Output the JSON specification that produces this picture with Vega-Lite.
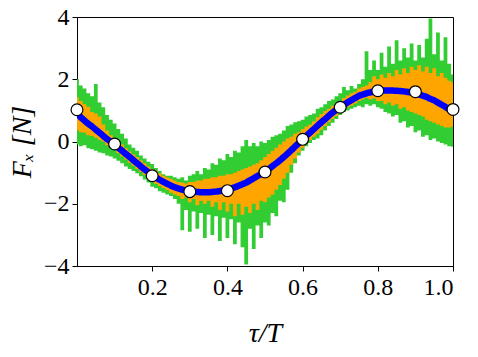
{
  "$schema": "https://vega.github.io/schema/vega-lite/v6.json",
  "autosize": {"type": "none"},
  "padding": {"left": 77, "top": 17, "right": 25, "bottom": 91},
  "width": 376,
  "height": 249,
  "background": "white",
  "config": {
    "view": {"stroke": "black", "strokeWidth": 1},
    "axis": {
      "grid": false,
      "domainColor": "black",
      "domainWidth": 1,
      "tickColor": "black",
      "tickWidth": 1,
      "tickSize": 5,
      "labelFont": "Liberation Serif",
      "labelFontSize": 24,
      "labelColor": "black",
      "titleFont": "Liberation Serif",
      "titleFontSize": 28,
      "titleFontStyle": "italic",
      "titleFontWeight": "normal",
      "titleColor": "black"
    }
  },
  "datasets": {
    "sig": [
      {"x":0.00,"b":0.88,"gl":-0.1,"gh":2.0,"ol":0.37,"oh":1.42},
      {"x":0.01,"b":0.78,"gl":-0.15,"gh":1.8,"ol":0.3,"oh":1.3},
      {"x":0.02,"b":0.67,"gl":-0.12,"gh":1.7,"ol":0.28,"oh":1.2},
      {"x":0.03,"b":0.57,"gl":-0.22,"gh":1.55,"ol":0.2,"oh":1.12},
      {"x":0.04,"b":0.48,"gl":-0.25,"gh":1.45,"ol":0.18,"oh":0.95},
      {"x":0.05,"b":0.38,"gl":-0.3,"gh":1.85,"ol":0.12,"oh":0.9},
      {"x":0.06,"b":0.28,"gl":-0.35,"gh":1.25,"ol":0.05,"oh":0.8},
      {"x":0.07,"b":0.18,"gl":-0.38,"gh":1.1,"ol":0.0,"oh":0.55},
      {"x":0.08,"b":0.08,"gl":-0.45,"gh":0.85,"ol":-0.12,"oh":0.35},
      {"x":0.09,"b":-0.01,"gl":-0.48,"gh":0.7,"ol":-0.2,"oh":0.2},
      {"x":0.10,"b":-0.10,"gl":-0.55,"gh":0.58,"ol":-0.27,"oh":0.1},
      {"x":0.11,"b":-0.20,"gl":-0.62,"gh":0.4,"ol":-0.38,"oh":0.0},
      {"x":0.12,"b":-0.30,"gl":-0.7,"gh":0.25,"ol":-0.48,"oh":-0.1},
      {"x":0.13,"b":-0.40,"gl":-0.8,"gh":0.1,"ol":-0.58,"oh":-0.22},
      {"x":0.14,"b":-0.50,"gl":-0.88,"gh":-0.1,"ol":-0.68,"oh":-0.32},
      {"x":0.15,"b":-0.60,"gl":-0.95,"gh":-0.2,"ol":-0.78,"oh":-0.42},
      {"x":0.16,"b":-0.70,"gl":-1.02,"gh":-0.3,"ol":-0.88,"oh":-0.5},
      {"x":0.17,"b":-0.80,"gl":-1.12,"gh":-0.45,"ol":-0.98,"oh":-0.6},
      {"x":0.18,"b":-0.90,"gl":-1.22,"gh":-0.55,"ol":-1.08,"oh":-0.7},
      {"x":0.19,"b":-0.99,"gl":-1.32,"gh":-0.65,"ol":-1.18,"oh":-0.8},
      {"x":0.20,"b":-1.08,"gl":-1.45,"gh":-0.72,"ol":-1.28,"oh":-0.88},
      {"x":0.21,"b":-1.16,"gl":-1.5,"gh":-0.85,"ol":-1.36,"oh":-0.95},
      {"x":0.22,"b":-1.23,"gl":-1.6,"gh":-0.95,"ol":-1.43,"oh":-1.02},
      {"x":0.23,"b":-1.30,"gl":-1.65,"gh":-1.05,"ol":-1.5,"oh":-1.1},
      {"x":0.24,"b":-1.36,"gl":-1.7,"gh":-1.1,"ol":-1.56,"oh":-1.16},
      {"x":0.25,"b":-1.42,"gl":-1.75,"gh":-1.1,"ol":-1.65,"oh":-1.2},
      {"x":0.26,"b":-1.47,"gl":-1.85,"gh":-1.15,"ol":-1.7,"oh":-1.25},
      {"x":0.27,"b":-1.51,"gl":-2.0,"gh":-1.2,"ol":-1.75,"oh":-1.3},
      {"x":0.28,"b":-1.55,"gl":-2.85,"gh":-1.15,"ol":-1.85,"oh":-1.32},
      {"x":0.29,"b":-1.58,"gl":-2.2,"gh":-1.25,"ol":-1.8,"oh":-1.35},
      {"x":0.30,"b":-1.60,"gl":-2.9,"gh":-1.1,"ol":-1.95,"oh":-1.3},
      {"x":0.31,"b":-1.61,"gl":-2.25,"gh":-1.05,"ol":-1.85,"oh":-1.3},
      {"x":0.32,"b":-1.62,"gl":-2.8,"gh":-0.95,"ol":-2.05,"oh":-1.25},
      {"x":0.33,"b":-1.63,"gl":-2.3,"gh":-1.05,"ol":-1.9,"oh":-1.25},
      {"x":0.34,"b":-1.63,"gl":-3.1,"gh":-0.85,"ol":-2.0,"oh":-1.2},
      {"x":0.35,"b":-1.63,"gl":-2.35,"gh":-0.9,"ol":-1.9,"oh":-1.2},
      {"x":0.36,"b":-1.62,"gl":-3.0,"gh":-0.7,"ol":-2.1,"oh":-1.15},
      {"x":0.37,"b":-1.61,"gl":-2.4,"gh":-0.75,"ol":-1.95,"oh":-1.15},
      {"x":0.38,"b":-1.59,"gl":-3.2,"gh":-0.55,"ol":-2.2,"oh":-1.1},
      {"x":0.39,"b":-1.57,"gl":-2.45,"gh":-0.6,"ol":-1.95,"oh":-1.1},
      {"x":0.40,"b":-1.55,"gl":-3.1,"gh":-0.4,"ol":-2.25,"oh":-1.05},
      {"x":0.41,"b":-1.51,"gl":-2.5,"gh":-0.5,"ol":-2.0,"oh":-1.05},
      {"x":0.42,"b":-1.47,"gl":-3.3,"gh":-0.3,"ol":-2.4,"oh":-1.0},
      {"x":0.43,"b":-1.42,"gl":-2.6,"gh":-0.35,"ol":-2.0,"oh":-0.95},
      {"x":0.44,"b":-1.37,"gl":-3.4,"gh":-0.15,"ol":-2.35,"oh":-0.9},
      {"x":0.45,"b":-1.32,"gl":-3.95,"gh":0.05,"ol":-2.1,"oh":-0.85},
      {"x":0.46,"b":-1.25,"gl":-2.8,"gh":-0.15,"ol":-2.3,"oh":-0.8},
      {"x":0.47,"b":-1.18,"gl":-3.45,"gh":-0.05,"ol":-2.0,"oh":-0.75},
      {"x":0.48,"b":-1.11,"gl":-2.7,"gh":-0.15,"ol":-2.2,"oh":-0.7},
      {"x":0.49,"b":-1.04,"gl":-3.1,"gh":0.0,"ol":-1.9,"oh":-0.6},
      {"x":0.50,"b":-0.97,"gl":-2.6,"gh":-0.05,"ol":-1.95,"oh":-0.5},
      {"x":0.51,"b":-0.88,"gl":-2.7,"gh":0.05,"ol":-1.8,"oh":-0.4},
      {"x":0.52,"b":-0.79,"gl":-2.3,"gh":0.15,"ol":-1.7,"oh":-0.3},
      {"x":0.53,"b":-0.70,"gl":-2.4,"gh":0.2,"ol":-1.55,"oh":-0.2},
      {"x":0.54,"b":-0.60,"gl":-1.9,"gh":0.25,"ol":-1.4,"oh":-0.1},
      {"x":0.55,"b":-0.50,"gl":-1.95,"gh":0.35,"ol":-1.2,"oh":0.0},
      {"x":0.56,"b":-0.39,"gl":-1.55,"gh":0.5,"ol":-1.0,"oh":0.1},
      {"x":0.57,"b":-0.28,"gl":-1.0,"gh":0.55,"ol":-0.75,"oh":0.15},
      {"x":0.58,"b":-0.16,"gl":-0.7,"gh":0.62,"ol":-0.55,"oh":0.25},
      {"x":0.59,"b":-0.05,"gl":-0.45,"gh":0.65,"ol":-0.35,"oh":0.3},
      {"x":0.60,"b":0.07,"gl":-0.3,"gh":0.7,"ol":-0.2,"oh":0.4},
      {"x":0.61,"b":0.18,"gl":-0.15,"gh":0.8,"ol":-0.05,"oh":0.48},
      {"x":0.62,"b":0.29,"gl":-0.05,"gh":0.85,"ol":0.05,"oh":0.55},
      {"x":0.63,"b":0.40,"gl":0.05,"gh":0.9,"ol":0.15,"oh":0.65},
      {"x":0.64,"b":0.51,"gl":0.1,"gh":1.05,"ol":0.25,"oh":0.78},
      {"x":0.65,"b":0.62,"gl":0.2,"gh":1.1,"ol":0.38,"oh":0.88},
      {"x":0.66,"b":0.72,"gl":0.35,"gh":1.2,"ol":0.5,"oh":0.98},
      {"x":0.67,"b":0.83,"gl":0.5,"gh":1.3,"ol":0.62,"oh":1.05},
      {"x":0.68,"b":0.93,"gl":0.6,"gh":1.35,"ol":0.72,"oh":1.15},
      {"x":0.69,"b":1.02,"gl":0.72,"gh":1.45,"ol":0.82,"oh":1.22},
      {"x":0.70,"b":1.10,"gl":0.85,"gh":1.55,"ol":0.92,"oh":1.3},
      {"x":0.71,"b":1.18,"gl":0.95,"gh":1.75,"ol":1.0,"oh":1.4},
      {"x":0.72,"b":1.26,"gl":1.0,"gh":1.65,"ol":1.1,"oh":1.48},
      {"x":0.73,"b":1.33,"gl":1.05,"gh":1.78,"ol":1.15,"oh":1.55},
      {"x":0.74,"b":1.40,"gl":1.1,"gh":1.7,"ol":1.22,"oh":1.6},
      {"x":0.75,"b":1.47,"gl":1.15,"gh":1.85,"ol":1.3,"oh":1.7},
      {"x":0.76,"b":1.51,"gl":1.1,"gh":2.0,"ol":1.35,"oh":1.75},
      {"x":0.77,"b":1.55,"gl":1.2,"gh":2.9,"ol":1.4,"oh":1.8},
      {"x":0.78,"b":1.58,"gl":1.15,"gh":2.3,"ol":1.35,"oh":1.9},
      {"x":0.79,"b":1.61,"gl":1.2,"gh":2.6,"ol":1.38,"oh":2.1},
      {"x":0.80,"b":1.63,"gl":1.1,"gh":2.3,"ol":1.3,"oh":2.0},
      {"x":0.81,"b":1.635,"gl":1.05,"gh":2.85,"ol":1.3,"oh":2.15},
      {"x":0.82,"b":1.64,"gl":0.95,"gh":2.4,"ol":1.2,"oh":2.05},
      {"x":0.83,"b":1.64,"gl":0.9,"gh":3.05,"ol":1.25,"oh":2.2},
      {"x":0.84,"b":1.635,"gl":0.8,"gh":2.5,"ol":1.15,"oh":2.1},
      {"x":0.85,"b":1.63,"gl":0.85,"gh":3.25,"ol":1.2,"oh":2.3},
      {"x":0.86,"b":1.62,"gl":0.6,"gh":2.6,"ol":1.05,"oh":2.15},
      {"x":0.87,"b":1.61,"gl":0.65,"gh":3.0,"ol":1.1,"oh":2.35},
      {"x":0.88,"b":1.59,"gl":0.45,"gh":2.7,"ol":1.0,"oh":2.2},
      {"x":0.89,"b":1.57,"gl":0.5,"gh":3.15,"ol":0.95,"oh":2.4},
      {"x":0.90,"b":1.55,"gl":0.3,"gh":2.6,"ol":0.9,"oh":2.3},
      {"x":0.91,"b":1.51,"gl":0.35,"gh":3.1,"ol":0.85,"oh":2.45},
      {"x":0.92,"b":1.47,"gl":0.15,"gh":2.7,"ol":0.8,"oh":2.25},
      {"x":0.93,"b":1.43,"gl":0.2,"gh":3.3,"ol":0.7,"oh":2.4},
      {"x":0.94,"b":1.37,"gl":0.05,"gh":3.95,"ol":0.65,"oh":2.2},
      {"x":0.95,"b":1.32,"gl":0.1,"gh":2.8,"ol":0.6,"oh":2.35},
      {"x":0.96,"b":1.25,"gl":0.0,"gh":3.5,"ol":0.55,"oh":2.1},
      {"x":0.97,"b":1.18,"gl":-0.05,"gh":2.6,"ol":0.5,"oh":2.2},
      {"x":0.98,"b":1.11,"gl":-0.1,"gh":3.35,"ol":0.45,"oh":2.05},
      {"x":0.99,"b":1.03,"gl":-0.15,"gh":2.5,"ol":0.45,"oh":1.95},
      {"x":1.00,"b":0.95,"gl":-0.17,"gh":2.15,"ol":0.48,"oh":1.9}
    ],
    "pts": [
      {"x":0.0,"y":1.02},
      {"x":0.1,"y":-0.08},
      {"x":0.2,"y":-1.1},
      {"x":0.3,"y":-1.61},
      {"x":0.4,"y":-1.58},
      {"x":0.5,"y":-0.98},
      {"x":0.6,"y":0.07},
      {"x":0.7,"y":1.1},
      {"x":0.8,"y":1.63},
      {"x":0.9,"y":1.6},
      {"x":1.0,"y":1.03}
    ]
  },
  "layer": [
    {
      "data": {"name": "sig"},
      "mark": {"type": "area", "interpolate": "step", "color": "#32CD32", "clip": true},
      "encoding": {
        "x": {"field": "x", "type": "quantitative", "scale": {"domain": [0, 1], "nice": false, "zero": false},
              "axis": {"values": [0.2, 0.4, 0.6, 0.8, 1.0], "format": ".1f", "title": "τ/T", "labelPadding": 4, "titlePadding": 20}},
        "y": {"field": "gl", "type": "quantitative", "scale": {"domain": [-4, 4], "nice": false},
              "axis": {"values": [-4, -2, 0, 2, 4], "format": "d", "title": "Fₓ [N]", "labelPadding": 3, "titlePadding": 7}},
        "y2": {"field": "gh"}
      }
    },
    {
      "data": {"name": "sig"},
      "mark": {"type": "area", "interpolate": "step", "color": "#FFA500", "clip": true},
      "encoding": {
        "x": {"field": "x", "type": "quantitative"},
        "y": {"field": "ol", "type": "quantitative"},
        "y2": {"field": "oh"}
      }
    },
    {
      "data": {"name": "sig"},
      "mark": {"type": "line", "color": "#0000FF", "strokeWidth": 6.5, "interpolate": "monotone", "clip": true},
      "encoding": {
        "x": {"field": "x", "type": "quantitative"},
        "y": {"field": "b", "type": "quantitative"}
      }
    },
    {
      "data": {"name": "pts"},
      "mark": {"type": "point", "filled": true, "fill": "white", "stroke": "black", "strokeWidth": 1.2, "size": 140, "opacity": 1},
      "encoding": {
        "x": {"field": "x", "type": "quantitative"},
        "y": {"field": "y", "type": "quantitative"}
      }
    }
  ]
}
